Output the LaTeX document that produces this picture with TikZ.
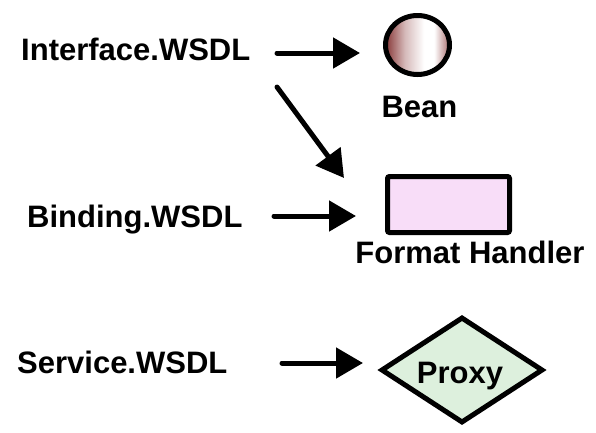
\documentclass[tikz,border=0pt]{standalone}
\usepackage{fontspec}
\setmainfont{Liberation Sans}
\usetikzlibrary{arrows.meta,shapes.geometric}
\definecolor{beandark}{RGB}{135,55,55}
\definecolor{beanright}{RGB}{170,110,110}
\definecolor{fhfill}{RGB}{248,221,248}
\definecolor{pxfill}{RGB}{221,240,221}
\pgfdeclarehorizontalshading{beanshade}{100bp}{color(0bp)=(beandark); color(25bp)=(beandark); color(40bp)=(beandark!35!white); color(55bp)=(white); color(63bp)=(white); color(75bp)=(beanright); color(100bp)=(beanright)}
\tikzset{
  lbl/.style={inner sep=0pt, font=\fontsize{31}{36}\selectfont\bfseries},
  arr/.style={line width=5pt, line cap=round, -{Triangle[length=27pt,width=30pt]}},
  shapebox/.style={line width=5pt, draw=black, inner sep=0pt}
}
\begin{document}
\begin{tikzpicture}[x=1pt,y=-1pt]
\useasboundingbox (0,0) rectangle (596,432);
% shapes
\node[shapebox, ellipse, minimum width=64pt, minimum height=59pt,
      shading=beanshade] (bean) at (417.5,45) {};
\node[shapebox, rectangle, rounded corners=2pt, fill=fhfill, minimum width=122pt, minimum height=56pt] (fh) at (448.5,204.5) {};
\node[shapebox, diamond, line join=miter, fill=pxfill, minimum width=162pt, minimum height=106pt] (proxy) at (462,370) {};
% labels
\node[lbl, anchor=base west] (iface) at (21,60) {Interface.WSDL};
\node[lbl, anchor=base west] (bind) at (27,227) {Binding.WSDL};
\node[lbl, anchor=base west] (serv) at (17,373) {Service.WSDL};
\node[lbl, anchor=base] (beanlbl) at (419.5,117) {Bean};
\node[lbl, anchor=base] (fhlbl) at (470,263) {Format Handler};
\node[lbl, anchor=base] (pxlbl) at (460,383) {Proxy};
% arrow end points
\coordinate (a1s) at (277,53);
\coordinate (a1e) at (360,53);
\coordinate (a2s) at (277,87);
\coordinate (a2e) at (344,178);
\coordinate (a3s) at (274,216);
\coordinate (a3e) at (356,216);
\coordinate (a4s) at (282,363);
\coordinate (a4e) at (363,363);
\draw[arr] (a1s) -- (a1e);
\draw[arr] (a2s) -- (a2e);
\draw[arr] (a3s) -- (a3e);
\draw[arr] (a4s) -- (a4e);
\end{tikzpicture}
\end{document}
